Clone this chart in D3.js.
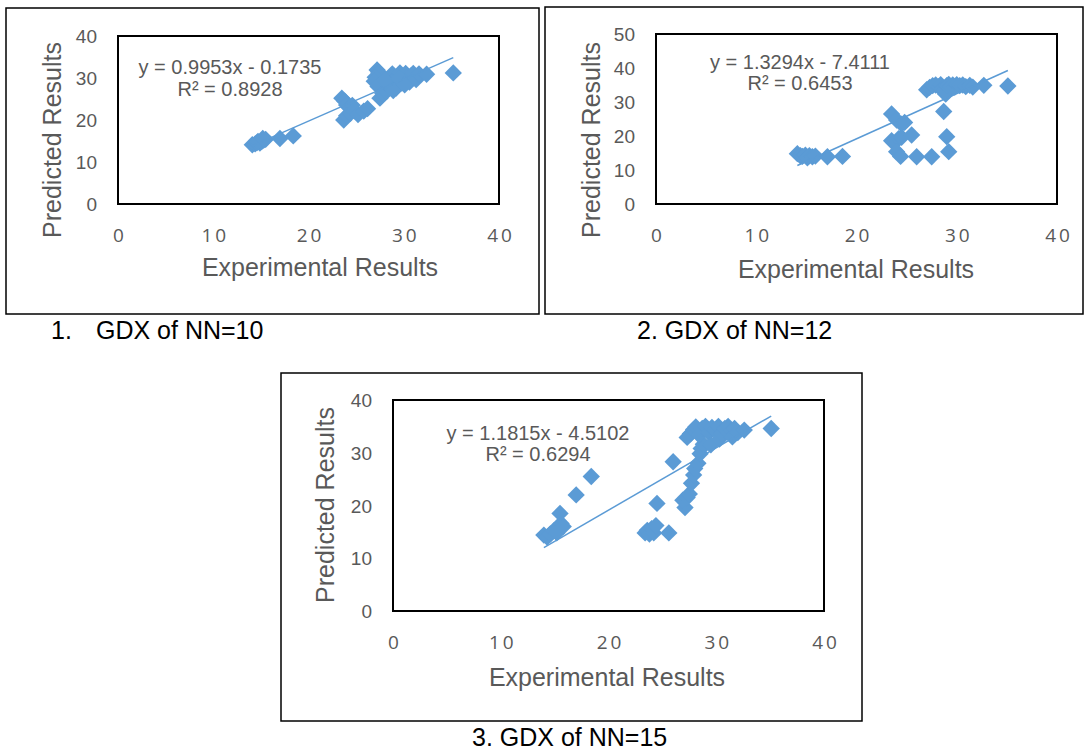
<!DOCTYPE html>
<html>
<head>
<meta charset="utf-8">
<script src="https://cdn.jsdelivr.net/npm/d3@7"></script>
<style>
  body { margin: 0; background: #fff; }
  svg { display: block; }
</style>
</head>
<body>
<svg id="fig" width="1084" height="751"></svg>
<script>
// ---- data ----
var exp10 = [14.1, 14.4, 14.6, 14.9, 15.1, 15.3, 15.5, 14.7, 15.2, 17.0, 18.4,
    23.5, 23.8, 24.0, 24.3, 24.6, 23.7, 24.0, 24.4, 24.8, 25.2, 25.8, 26.2,
    27.2, 27.4, 27.0, 26.9, 27.3, 27.5, 27.8, 28.2, 28.4, 28.6, 28.8, 29.0, 29.2,
    29.4, 29.6, 29.8, 30.0, 30.2, 30.4, 30.6, 30.8, 31.0, 31.3, 31.6, 32.4, 35.2,
    28.0, 28.9, 29.5, 30.1];
var pred10 = [14.1, 14.3, 14.6, 14.5, 14.9, 15.2, 15.4, 14.9, 15.6, 15.6, 16.2,
    25.2, 24.5, 23.6, 22.9, 23.5, 20.0, 21.0, 21.6, 22.2, 21.3, 22.1, 22.7,
    31.9, 31.3, 30.2, 29.2, 28.0, 25.2, 26.3, 26.8, 28.2, 30.0, 31.0, 29.2, 27.6,
    30.4, 31.2, 28.8, 29.6, 31.1, 30.0, 29.0, 30.6, 31.1, 29.6, 31.0, 30.9, 31.2,
    29.5, 27.0, 29.9, 28.4];

var exp12 = [14.1, 14.4, 14.6, 14.9, 15.1, 15.3, 15.6, 15.9, 17.1, 18.6,
    23.5, 24.0, 24.5, 24.8, 23.5, 24.2, 24.5, 24.0, 24.4, 25.5, 26.0, 27.5, 28.7, 29.0, 29.2,
    27.0, 27.3, 27.6, 27.9, 28.2, 28.4, 28.6, 28.8, 28.9, 29.0, 29.2, 29.4, 29.6,
    29.8, 30.0, 30.3, 30.6, 30.9, 31.3, 31.6, 32.7, 35.1];
var pred12 = [14.8, 14.2, 14.0, 14.4, 13.6, 14.2, 13.9, 14.1, 13.9, 14.0,
    26.5, 24.7, 23.5, 24.0, 18.6, 19.2, 19.6, 15.4, 14.0, 20.3, 13.9, 13.9, 27.2, 19.8, 15.4,
    33.6, 34.3, 34.8, 35.0, 34.5, 35.1, 34.0, 33.5, 32.3, 34.8, 35.2, 34.6, 35.0,
    34.4, 35.1, 34.8, 35.0, 34.5, 34.9, 34.4, 34.9, 34.7];

var exp15 = [14.0, 14.3, 14.6, 14.9, 15.2, 15.6, 15.8, 15.5, 17.0, 18.4,
    23.4, 23.6, 23.8, 24.0, 24.2, 24.4, 24.5, 25.6, 26.0,
    27.1, 26.9, 27.3, 27.5, 27.7, 27.9, 28.0, 28.3, 28.5, 28.6, 28.8,
    27.3, 27.6, 27.9, 28.1, 28.4, 28.7, 29.0, 29.3, 29.5, 29.6, 29.9, 30.2, 30.3,
    30.5, 30.8, 31.1, 31.4, 31.5, 31.7, 32.0, 32.6, 35.1];
var pred15 = [14.4, 14.0, 14.6, 15.2, 14.8, 16.6, 16.0, 18.5, 22.0, 25.5,
    14.8, 15.3, 14.6, 15.6, 14.8, 16.2, 20.4, 14.8, 28.3,
    19.6, 21.0, 21.5, 22.2, 24.2, 25.8, 27.0, 28.0, 29.8, 30.8, 31.6,
    32.9, 33.6, 34.4, 34.9, 33.4, 34.6, 35.0, 33.8, 31.5, 34.8, 34.3, 35.0, 32.6,
    33.6, 34.6, 35.0, 34.2, 33.0, 34.6, 33.8, 34.3, 34.6];

var slopes = [0.9953, 1.3294, 1.1815];
var intercepts = [-0.1735, -7.4111, -4.5102];
var eqLabels = ["y = 0.9953x - 0.1735", "y = 1.3294x - 7.4111", "y = 1.1815x - 4.5102"];
var r2Labels = ["R\u00b2 = 0.8928", "R\u00b2 = 0.6453", "R\u00b2 = 0.6294"];

var xTicks = [0, 10, 20, 30, 40];
var yTicks40 = [0, 10, 20, 30, 40];
var yTicks50 = [0, 10, 20, 30, 40, 50];

var xTitle = "Experimental Results";
var yTitle = "Predicted Results";

// ---- layout ----
var BLUE = "#5b9bd5", GREY = "#595959";
var SANS = "'Liberation Sans', Arial, sans-serif";

var panels = [
    { exp: exp10, pred: pred10, k: 0, yTicks: yTicks40,
      frame: [6, 8, 539, 314], plot: [118, 36, 499, 204],
      eq: [230, 67, 89], xLab: [320, 267], yLab: [52, 140] },
    { exp: exp12, pred: pred12, k: 1, yTicks: yTicks50,
      frame: [545, 7, 1083, 314], plot: [656, 34, 1057, 204],
      eq: [800, 62, 83], xLab: [856, 269], yLab: [591, 140] },
    { exp: exp15, pred: pred15, k: 2, yTicks: yTicks40,
      frame: [281, 373, 862, 721], plot: [393, 400, 824, 611],
      eq: [538, 433, 454], xLab: [607, 677], yLab: [325, 505] }
];

var svg = d3.select("#fig");
var diamond = d3.symbol().type(d3.symbolSquare).size(150);

var drawPanel = function(p) {
    var g = svg.append("g").attr("class", "panel");
    var f = p.frame, b = p.plot;

    g.append("rect")
        .attr("x", f[0]).attr("y", f[1])
        .attr("width", f[2] - f[0]).attr("height", f[3] - f[1])
        .attr("fill", "none").attr("stroke", "#000").attr("stroke-width", 1.5);

    var x = d3.scaleLinear().domain([0, 40]).range([b[0], b[2]]);
    var y = d3.scaleLinear().domain([0, d3.max(p.yTicks)]).range([b[3], b[1]]);

    g.append("rect")
        .attr("x", b[0]).attr("y", b[1])
        .attr("width", b[2] - b[0]).attr("height", b[3] - b[1])
        .attr("fill", "none").attr("stroke", "#000").attr("stroke-width", 2);

    // axes: labels only, no lines
    var ax = g.append("g")
        .attr("transform", "translate(0," + b[3] + ")")
        .call(d3.axisBottom(x).tickValues(xTicks).tickSize(0).tickFormat(d3.format("d")));
    ax.select(".domain").remove();
    ax.selectAll("text")
        .attr("y", 31).attr("dy", "0.35em").attr("dx", 1.5)
        .attr("fill", GREY)
        .style("font-family", "'Open Sans', sans-serif")
        .style("font-size", "19px")
        .style("letter-spacing", "3px");

    var ay = g.append("g")
        .attr("transform", "translate(" + b[0] + ",0)")
        .call(d3.axisLeft(y).tickValues(p.yTicks).tickSize(0).tickPadding(21));
    ay.select(".domain").remove();
    ay.selectAll("text")
        .attr("dy", "0.35em")
        .attr("fill", GREY)
        .style("font-family", SANS)
        .style("font-size", "19px");

    // points
    g.append("g").selectAll("path")
        .data(d3.zip(p.exp, p.pred))
      .enter()
        .append("path")
        .attr("d", diamond)
        .attr("transform", function(d) {
            return "translate(" + x(d[0]) + "," + y(d[1]) + ") rotate(45)";
        })
        .attr("fill", BLUE);

    // linear trend line over the data range
    var ext = d3.extent(p.exp);
    var fit = function(v) { return slopes[p.k] * v + intercepts[p.k]; };
    g.append("path")
        .datum(ext)
        .attr("d", d3.line().x(function(d) { return x(d); }).y(function(d) { return y(fit(d)); }))
        .attr("fill", "none")
        .attr("stroke", BLUE)
        .attr("stroke-width", 1.5);

    // equation
    g.append("text")
        .attr("x", p.eq[0]).attr("y", p.eq[1]).attr("dy", "0.35em")
        .attr("text-anchor", "middle").attr("fill", GREY)
        .style("font-family", SANS).style("font-size", "20px")
        .text(eqLabels[p.k]);
    g.append("text")
        .attr("x", p.eq[0]).attr("y", p.eq[2]).attr("dy", "0.35em")
        .attr("text-anchor", "middle").attr("fill", GREY)
        .style("font-family", SANS).style("font-size", "20px")
        .text(r2Labels[p.k]);

    // axis titles
    g.append("text")
        .attr("x", p.xLab[0]).attr("y", p.xLab[1]).attr("dy", "0.35em")
        .attr("text-anchor", "middle").attr("fill", GREY)
        .style("font-family", SANS).style("font-size", "25px")
        .text(xTitle);
    g.append("text")
        .attr("transform", "translate(" + p.yLab[0] + "," + p.yLab[1] + ") rotate(-90)")
        .attr("dy", "0.35em")
        .attr("text-anchor", "middle").attr("fill", GREY)
        .style("font-family", SANS).style("font-size", "25px")
        .text(yTitle);
};

panels.forEach(drawPanel);

// captions under each panel
var caption = function(xPos, yPos, str, anchor) {
    svg.append("text")
        .attr("x", xPos).attr("y", yPos).attr("dy", "0.35em")
        .attr("text-anchor", anchor || "start")
        .attr("fill", "#000")
        .style("font-family", SANS).style("font-size", "25px")
        .text(str);
};
caption(51, 330, "1.");
caption(96, 330, "GDX of NN=10");
caption(637, 330, "2. GDX of NN=12");
caption(472, 737, "3. GDX of NN=15");
</script>
</body>
</html>
